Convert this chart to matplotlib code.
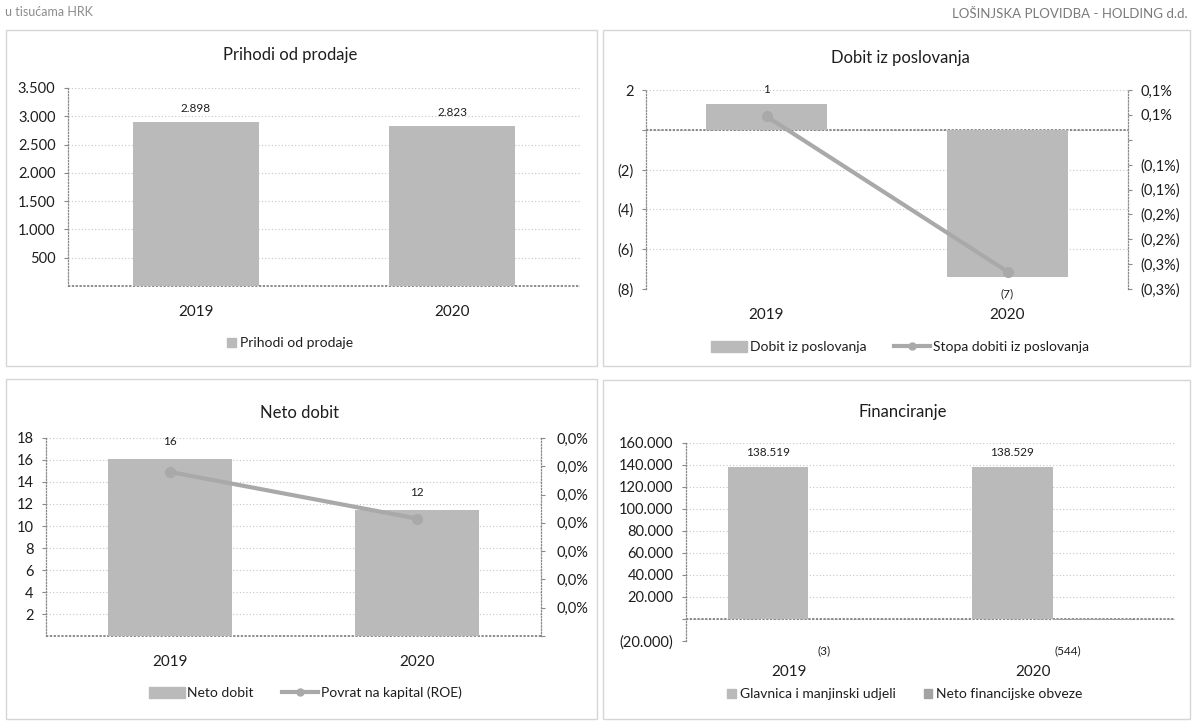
import math
import matplotlib
matplotlib.use("Agg")
import matplotlib.pyplot as plt
from matplotlib.patches import Patch, Rectangle
from matplotlib.lines import Line2D
from matplotlib.ticker import MultipleLocator, FuncFormatter, FixedLocator

plt.rcParams['font.family'] = ['Lato', 'DejaVu Sans']

# ---------------- data ----------------
years = ["2019", "2020"]

prihodi = [2898, 2823]

dobit_posl = [1.3, -7.4]
stopa_dobiti = [0.00047, -0.00265]

neto_dobit = [16.1, 11.5]
roe = [0.000116, 0.000083]

glavnica = [138519, 138529]
neto_fin_obveze = [-3, -544]

# ---------------- style ----------------
W, H = 1194, 723
BAR = '#bababa'
BAR2 = '#a3a3a3'
LINE = '#a9a9a9'
TXT = '#1e1e1e'
GRID = '#c4c4c4'
AXC = '#8a8a8a'

fig = plt.figure(figsize=(W / 100, H / 100), dpi=100)
fig.patch.set_facecolor('white')


def rect(x0, y0, x1, y1):
    return [x0 / W, 1 - y1 / H, (x1 - x0) / W, (y1 - y0) / H]


def fx(x):
    return x / W


def fy(y):
    return 1 - y / H


def num_fmt(v):
    r = int(math.floor(abs(v) + 0.5 + 1e-9))
    s = f"{r:,}".replace(',', '.')
    if r == 0:
        return ''
    return f"({s})" if v < 0 else s


def pct_fmt(v):
    val = abs(v) * 100
    r = math.floor(val * 10 + 0.5 + 1e-9) / 10
    if abs(v) < 1e-12:
        return ''
    s = f"{r:.1f}%".replace('.', ',')
    return f"({s})" if v < 0 else s


def style_axes(ax, zero_line=True):
    ax.set_facecolor('none')
    for s in ['top', 'right']:
        ax.spines[s].set_visible(False)
    ax.spines['bottom'].set_visible(False)
    ax.spines['left'].set_color(AXC)
    ax.spines['left'].set_linestyle((0, (1, 1.5)))
    ax.spines['left'].set_linewidth(0.9)
    ax.grid(axis='y', color=GRID, linestyle=(0, (1, 2)), linewidth=0.8)
    ax.set_axisbelow(True)
    ax.tick_params(axis='y', length=3, width=0.8, color=AXC, labelsize=10.5,
                   labelcolor=TXT, pad=6)
    ax.tick_params(axis='x', length=0, labelsize=11, labelcolor=TXT)
    if zero_line:
        ax.axhline(0, color='#6e6e6e', linestyle=(0, (1.5, 1)), linewidth=1.1,
                   zorder=1, clip_on=False)


def panel_box(x0, y0, x1, y1):
    fig.patches.append(Rectangle((fx(x0), fy(y1)), (x1 - x0) / W, (y1 - y0) / H,
                                 transform=fig.transFigure, fill=False,
                                 edgecolor='#d6d6d6', linewidth=1.0))


# header texts
fig.text(fx(5), fy(12), "u tisućama HRK", color='#8c8c8c', fontsize=9, va='center', ha='left')
fig.text(fx(1188), fy(14), "LOŠINJSKA PLOVIDBA - HOLDING d.d.", color='#7a7a7a',
         fontsize=9.5, va='center', ha='right')

panel_box(6, 30, 597, 366)
panel_box(603, 30, 1190, 366)
panel_box(6, 379, 597, 719)
panel_box(603, 380, 1190, 719)

x = [0, 1]
LBL = 8.5

# ---------------- Prihodi od prodaje ----------------
ax1 = fig.add_axes(rect(68, 88, 580, 286))
style_axes(ax1)
ax1.bar(x, prihodi, width=0.49, color=BAR, zorder=2)
ax1.set_xlim(-0.5, 1.5)
ax1.set_ylim(0, 3500)
ax1.yaxis.set_major_locator(FixedLocator(list(range(500, 3501, 500))))
ax1.yaxis.set_major_formatter(FuncFormatter(lambda v, p: num_fmt(v)))
ax1.set_xticks(x, years)
ax1.tick_params(axis='x', pad=14)
for xi, v in zip(x, prihodi):
    ax1.annotate(num_fmt(v), (xi, v), xytext=(0, 14), textcoords='offset pixels',
                 ha='center', va='center', fontsize=LBL, color=TXT)
fig.text(fx(290), fy(55), "Prihodi od prodaje", ha='center', va='center', fontsize=12, color=TXT)
fig.legend(handles=[Patch(color=BAR, label="Prihodi od prodaje")],
           loc='center', bbox_to_anchor=(fx(290), fy(343)), frameon=False,
           fontsize=10, handlelength=0.6, handleheight=0.6, handletextpad=0.3,
           labelcolor=TXT)

# ---------------- Dobit iz poslovanja ----------------
ax2 = fig.add_axes(rect(646, 90, 1128, 289))
style_axes(ax2)
ax2.bar(x, dobit_posl, width=0.5, color=BAR, zorder=2)
ax2.set_xlim(-0.5, 1.5)
ax2.set_ylim(-8, 2)
ax2.yaxis.set_major_locator(MultipleLocator(2))
ax2.yaxis.set_major_formatter(FuncFormatter(lambda v, p: num_fmt(v)))
ax2.set_xticks(x, years)
ax2.tick_params(axis='x', pad=14)
for xi, v in zip(x, dobit_posl):
    off = 14 if v >= 0 else -17
    ax2.annotate(num_fmt(v), (xi, v), xytext=(0, off), textcoords='offset pixels',
                 ha='center', va='center', fontsize=LBL, color=TXT)
ax2r = ax2.twinx()
ax2r.set_ylim(-0.003, 0.001)
ax2r.plot(x, stopa_dobiti, color=LINE, linewidth=3, marker='o', markersize=7, zorder=3)
for s in ['top', 'left', 'bottom']:
    ax2r.spines[s].set_visible(False)
ax2r.spines['right'].set_color(AXC)
ax2r.spines['right'].set_linestyle((0, (1, 1.5)))
ax2r.spines['right'].set_linewidth(0.9)
ax2r.yaxis.set_major_locator(MultipleLocator(0.0005))
ax2r.yaxis.set_major_formatter(FuncFormatter(lambda v, p: pct_fmt(v)))
ax2r.tick_params(axis='y', length=3, width=0.8, color=AXC, labelsize=10.5,
                 labelcolor=TXT, pad=6)
fig.text(fx(900), fy(58), "Dobit iz poslovanja", ha='center', va='center', fontsize=12, color=TXT)
fig.legend(handles=[Patch(color=BAR, label="Dobit iz poslovanja"),
                    Line2D([], [], color=LINE, linewidth=3, marker='o', markersize=5,
                           label="Stopa dobiti iz poslovanja")],
           loc='center', bbox_to_anchor=(fx(900), fy(347)), frameon=False, ncol=2,
           fontsize=10, handlelength=2.6, handleheight=0.9, handletextpad=0.2,
           columnspacing=2.0, labelcolor=TXT)

# ---------------- Neto dobit ----------------
ax3 = fig.add_axes(rect(46, 438, 541, 636))
style_axes(ax3)
ax3.bar(x, neto_dobit, width=0.5, color=BAR, zorder=2)
ax3.set_xlim(-0.5, 1.5)
ax3.set_ylim(0, 18)
ax3.yaxis.set_major_locator(FixedLocator(list(range(2, 19, 2))))
ax3.yaxis.set_major_formatter(FuncFormatter(lambda v, p: num_fmt(v)))
ax3.set_xticks(x, years)
ax3.tick_params(axis='x', pad=14)
for xi, v in zip(x, neto_dobit):
    ax3.annotate(num_fmt(v), (xi, v), xytext=(0, 17), textcoords='offset pixels',
                 ha='center', va='center', fontsize=LBL, color=TXT)
ax3r = ax3.twinx()
ax3r.set_ylim(0, 0.00014)
ax3r.plot(x, roe, color=LINE, linewidth=3, marker='o', markersize=7, zorder=3)
for s in ['top', 'left', 'bottom']:
    ax3r.spines[s].set_visible(False)
ax3r.spines['right'].set_color(AXC)
ax3r.spines['right'].set_linestyle((0, (1, 1.5)))
ax3r.spines['right'].set_linewidth(0.9)
ax3r.yaxis.set_major_locator(MultipleLocator(0.00002))
ax3r.yaxis.set_major_formatter(FuncFormatter(lambda v, p: pct_fmt(v)))
ax3r.tick_params(axis='y', length=3, width=0.8, color=AXC, labelsize=10.5,
                 labelcolor=TXT, pad=8)
fig.text(fx(300), fy(413), "Neto dobit", ha='center', va='center', fontsize=12, color=TXT)
fig.legend(handles=[Patch(color=BAR, label="Neto dobit"),
                    Line2D([], [], color=LINE, linewidth=3, marker='o', markersize=5,
                           label="Povrat na kapital (ROE)")],
           loc='center', bbox_to_anchor=(fx(305), fy(693)), frameon=False, ncol=2,
           fontsize=10, handlelength=2.6, handleheight=0.9, handletextpad=0.2,
           columnspacing=2.0, labelcolor=TXT)

# ---------------- Financiranje ----------------
ax4 = fig.add_axes(rect(686, 443, 1175, 641))
style_axes(ax4)
bw = 0.33
xg = [xi - bw / 2 for xi in x]
xn = [xi + bw / 2 for xi in x]
ax4.bar(xg, glavnica, width=bw, color=BAR, zorder=2)
ax4.bar(xn, neto_fin_obveze, width=bw, color=BAR2, zorder=2)
ax4.set_xlim(-0.5, 1.5)
ax4.set_ylim(-20000, 160000)
ax4.yaxis.set_major_locator(MultipleLocator(20000))
ax4.yaxis.set_major_formatter(FuncFormatter(lambda v, p: num_fmt(v)))
ax4.set_xticks([xi - 0.08 for xi in x], years)
ax4.tick_params(axis='x', pad=17)
for xi, v in zip(xg, glavnica):
    ax4.annotate(num_fmt(v), (xi, v), xytext=(0, 14), textcoords='offset pixels',
                 ha='center', va='center', fontsize=LBL, color=TXT)
for xi, v in zip(xn, neto_fin_obveze):
    ax4.annotate(num_fmt(v), (xi, 0), xytext=(-25, -32), textcoords='offset pixels',
                 ha='center', va='center', fontsize=LBL, color=TXT)
fig.text(fx(903), fy(412), "Financiranje", ha='center', va='center', fontsize=12, color=TXT)
fig.legend(handles=[Patch(color=BAR, label="Glavnica i manjinski udjeli"),
                    Patch(color=BAR2, label="Neto financijske obveze")],
           loc='center', bbox_to_anchor=(fx(905), fy(694)), frameon=False, ncol=2,
           fontsize=10, handlelength=0.6, handleheight=0.6, handletextpad=0.3,
           columnspacing=2.0, labelcolor=TXT)

fig.savefig("out.png", dpi=100, facecolor='white')
